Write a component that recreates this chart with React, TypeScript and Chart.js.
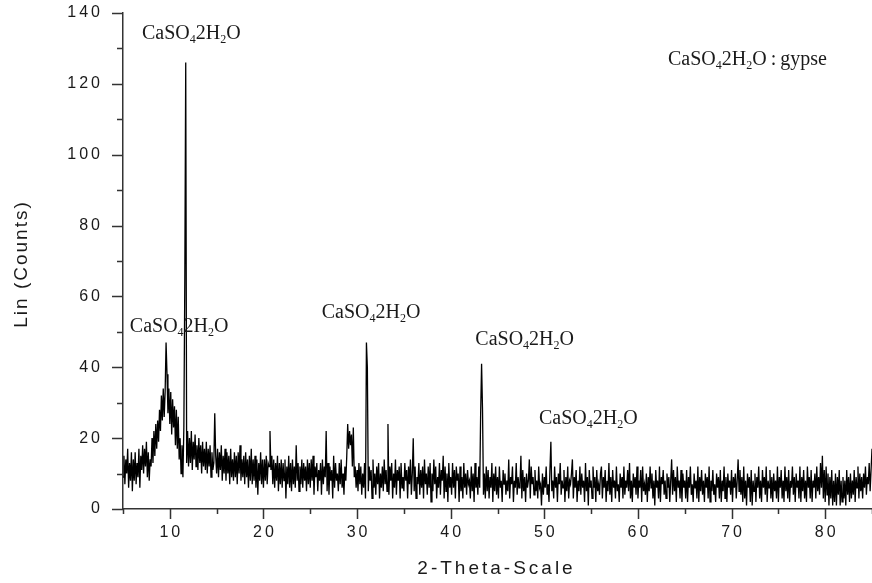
import { useEffect, useRef } from "react";
import { Chart, registerables } from "chart.js";

Chart.register(...registerables);

// XRD scan grid (2-theta, degrees)
const scanStart = 5;
const scanStep = 0.1;

// Intensity readings (Lin counts), one array per 10-degree window
const counts05to15 = [
  9, 15, 7, 14, 10, 17, 6, 13, 8, 16,
  5, 14, 8, 16, 7, 13, 9, 17, 6, 15,
  11, 18, 10, 17, 12, 19, 9, 16, 8, 14,
  12, 20, 13, 22, 15, 24, 17, 25, 19, 28,
  22, 32, 25, 34, 26, 33, 47, 38, 27, 34,
  24, 33, 21, 31, 23, 29, 18, 28, 17, 26,
  14, 20, 10, 18, 9, 23, 64, 126, 13, 22,
  12, 20, 13, 22, 11, 19, 14, 21, 12, 18,
  11, 20, 13, 18, 10, 19, 12, 17, 11, 19,
  10, 17, 12, 18, 9, 16, 11, 13, 27, 15,
];
const counts15to25 = [
  10, 17, 9, 16, 11, 18, 8, 15, 10, 17,
  8, 16, 10, 15, 7, 17, 9, 14, 8, 16,
  9, 15, 7, 16, 10, 18, 8, 14, 9, 15,
  7, 16, 9, 14, 6, 15, 8, 17, 7, 14,
  8, 15, 6, 14, 4, 13, 8, 16, 7, 14,
  6, 14, 8, 15, 7, 13, 12, 22, 11, 15,
  7, 14, 6, 13, 8, 15, 5, 13, 7, 14,
  6, 13, 8, 14, 3, 12, 7, 15, 6, 13,
  5, 14, 7, 12, 6, 18, 8, 13, 5, 12,
  7, 14, 6, 13, 8, 12, 5, 14, 7, 13,
];
const counts25to35 = [
  6, 14, 8, 15, 4, 12, 9, 13, 5, 11,
  8, 13, 4, 14, 7, 12, 9, 22, 5, 13,
  4, 12, 8, 11, 3, 15, 6, 13, 8, 10,
  5, 13, 7, 14, 6, 10, 4, 12, 8, 15,
  24, 17, 22, 18, 21, 12, 23, 9, 12, 6,
  11, 5, 13, 7, 12, 4, 10, 6, 13, 3,
  47, 40, 5, 12, 8, 11, 3, 14, 6, 10,
  4, 12, 7, 13, 3, 10, 6, 12, 5, 14,
  7, 11, 5, 24, 4, 12, 8, 13, 3, 10,
  6, 14, 4, 11, 8, 12, 3, 13, 6, 9,
];
const counts35to45 = [
  5, 13, 8, 11, 3, 12, 7, 14, 4, 10,
  20, 5, 12, 3, 9, 7, 13, 4, 11, 6,
  12, 3, 14, 7, 10, 4, 12, 6, 13, 2,
  10, 5, 14, 7, 12, 3, 9, 6, 13, 4,
  11, 8, 15, 3, 12, 5, 10, 2, 13, 6,
  9, 4, 13, 6, 11, 3, 12, 8, 10, 2,
  12, 5, 9, 3, 13, 6, 10, 4, 11, 7,
  8, 3, 12, 5, 10, 2, 13, 6, 9, 4,
  12, 6, 27, 41, 28, 4, 10, 3, 12, 5,
  11, 3, 9, 6, 13, 2, 10, 5, 12, 4,
];
const counts45to55 = [
  9, 3, 12, 6, 8, 2, 11, 7, 10, 4,
  8, 5, 14, 3, 9, 7, 12, 2, 8, 6,
  13, 4, 9, 6, 7, 15, 3, 11, 5, 9,
  2, 10, 6, 8, 14, 3, 12, 7, 9, 4,
  11, 5, 8, 3, 12, 6, 7, 1, 10, 4,
  9, 6, 12, 4, 7, 2, 11, 19, 5, 8,
  3, 12, 6, 9, 2, 10, 7, 13, 4, 8,
  6, 11, 2, 9, 5, 12, 3, 8, 7, 10,
  14, 3, 9, 6, 11, 2, 8, 5, 12, 4,
  10, 6, 8, 2, 13, 5, 9, 1, 11, 6,
];
const counts55to65 = [
  8, 3, 12, 6, 9, 2, 11, 5, 7, 4,
  10, 12, 3, 9, 6, 11, 2, 8, 5, 13,
  4, 9, 2, 11, 6, 8, 3, 12, 5, 7,
  2, 10, 6, 9, 3, 12, 4, 8, 6, 11,
  5, 13, 3, 8, 2, 10, 6, 9, 4, 12,
  3, 8, 6, 11, 2, 12, 5, 7, 4, 10,
  2, 9, 5, 12, 6, 10, 3, 8, 1, 11,
  6, 8, 3, 12, 2, 9, 7, 11, 4, 8,
  3, 10, 6, 9, 2, 8, 14, 4, 11, 5,
  9, 2, 12, 6, 8, 3, 11, 2, 10, 6,
];
const counts65to75 = [
  8, 3, 11, 2, 9, 6, 12, 4, 7, 2,
  10, 6, 8, 3, 12, 2, 9, 5, 11, 4,
  8, 2, 10, 6, 9, 3, 12, 2, 8, 5,
  11, 4, 7, 2, 10, 6, 9, 3, 11, 2,
  8, 5, 12, 3, 9, 2, 10, 6, 8, 4,
  11, 2, 9, 6, 10, 3, 8, 14, 5, 11,
  4, 9, 2, 12, 3, 8, 1, 10, 6, 9,
  2, 11, 1, 8, 5, 10, 2, 9, 6, 12,
  3, 8, 2, 11, 6, 9, 4, 12, 2, 8,
  6, 11, 3, 9, 2, 10, 5, 8, 3, 12,
];
const counts75to85 = [
  2, 9, 6, 11, 3, 8, 2, 12, 5, 9,
  3, 11, 2, 8, 6, 12, 4, 9, 2, 10,
  6, 8, 3, 12, 2, 9, 5, 11, 3, 8,
  2, 12, 6, 9, 3, 11, 2, 8, 6, 10,
  3, 12, 5, 9, 4, 13, 6, 15, 3, 11,
  2, 12, 4, 10, 1, 9, 3, 11, 1, 8,
  2, 10, 1, 9, 4, 11, 1, 8, 2, 9,
  3, 8, 1, 11, 4, 9, 2, 10, 3, 8,
  4, 11, 2, 9, 6, 12, 3, 10, 5, 9,
  3, 10, 6, 12, 4, 9, 7, 13, 5, 11,
  17,
];

const xMin = 5;
const xMax = 85;
const yMin = 0;
const yMax = 140;
const xTickLabels = [10, 20, 30, 40, 50, 60, 70, 80];
const yTickLabels = [0, 20, 40, 60, 80, 100, 120, 140];
const xTitle = "2-Theta-Scale";
const yTitle = "Lin (Counts)";

// Peak annotations (data coordinates of label centre)
const peakLabelX = [12.3, 11.0, 31.5, 47.9, 54.7];
const peakLabelY = [134.6, 51.9, 56.0, 48.3, 26.0];
const noteX = 71.7;
const noteY = 127.3;

type Part = [string, boolean];
const formulaParts: Part[] = [
  ["CaSO", false],
  ["4", true],
  ["2H", false],
  ["2", true],
  ["O", false],
];
const noteParts: Part[] = [...formulaParts, ["\u2009:\u2009gypse", false]];

const allCounts = [
  ...counts05to15,
  ...counts15to25,
  ...counts25to35,
  ...counts35to45,
  ...counts45to55,
  ...counts55to65,
  ...counts65to75,
  ...counts75to85,
];

const MAIN_FONT = "20px 'Liberation Serif', 'Times New Roman', serif";
const SUB_FONT = "12px 'Liberation Serif', 'Times New Roman', serif";

function drawFormula(ctx: CanvasRenderingContext2D, parts: Part[], cx: number, cy: number) {
  ctx.letterSpacing = "0px";
  let total = 0;
  const widths = parts.map(([t, sub]) => {
    ctx.font = sub ? SUB_FONT : MAIN_FONT;
    const w = ctx.measureText(t).width;
    total += w;
    return w;
  });
  let x = cx - total / 2;
  const baseline = cy + 7;
  ctx.textAlign = "left";
  ctx.textBaseline = "alphabetic";
  parts.forEach(([t, sub], i) => {
    ctx.font = sub ? SUB_FONT : MAIN_FONT;
    ctx.fillText(t, x, sub ? baseline + 4 : baseline);
    x += widths[i];
  });
}

const decorPlugin = {
  id: "decor",
  afterDraw(chart: any) {
    const ctx: CanvasRenderingContext2D = chart.ctx;
    const xs = chart.scales.x;
    const ys = chart.scales.y;
    const area = chart.chartArea;
    ctx.save();
    ctx.strokeStyle = "#333";
    ctx.lineWidth = 1.5;
    ctx.beginPath();
    for (let v = yMin; v <= yMax; v += 10) {
      const py = Math.round(ys.getPixelForValue(v)) + 0.5;
      const len = v % 20 === 0 ? 11 : 6;
      ctx.moveTo(area.left - len, py);
      ctx.lineTo(area.left, py);
    }
    for (let v = xMin; v <= xMax; v += 5) {
      const px = Math.round(xs.getPixelForValue(v)) + 0.5;
      const len = v % 10 === 0 ? 10 : 5;
      ctx.moveTo(px, area.bottom);
      ctx.lineTo(px, area.bottom + len);
    }
    ctx.stroke();

    // tick labels
    const sp = 3;
    ctx.fillStyle = "#1a1a1a";
    ctx.font = "16px 'Liberation Sans', Arial, sans-serif";
    ctx.letterSpacing = sp + "px";
    ctx.textBaseline = "middle";
    ctx.textAlign = "right";
    yTickLabels.forEach((v) => {
      ctx.fillText(String(v), area.left - 23 + sp, ys.getPixelForValue(v));
    });
    ctx.textAlign = "center";
    xTickLabels.forEach((v) => {
      ctx.fillText(String(v), xs.getPixelForValue(v) + sp / 2, area.bottom + 24);
    });

    // axis titles
    ctx.font = "19px 'Liberation Sans', Arial, sans-serif";
    ctx.letterSpacing = "3px";
    ctx.fillText(xTitle, (xs.getPixelForValue(xMin) + xs.getPixelForValue(xMax)) / 2 - 1, area.bottom + 60);
    ctx.save();
    ctx.translate(22, (area.top + area.bottom) / 2 + 4);
    ctx.rotate(-Math.PI / 2);
    ctx.letterSpacing = "2px";
    ctx.fillText(yTitle, 1, 0);
    ctx.restore();

    // annotations
    ctx.fillStyle = "#1a1a1a";
    peakLabelX.forEach((lx, i) => {
      drawFormula(ctx, formulaParts, xs.getPixelForValue(lx), ys.getPixelForValue(peakLabelY[i]));
    });
    drawFormula(ctx, noteParts, xs.getPixelForValue(noteX), ys.getPixelForValue(noteY));
    ctx.restore();
  },
};

export default function App() {
  const canvasRef = useRef<HTMLCanvasElement | null>(null);

  useEffect(() => {
    document.body.style.margin = "0";
    const canvas = canvasRef.current;
    if (!canvas) return;
    const points = allCounts.map((c, i) => ({
      x: Math.round((scanStart + i * scanStep) * 10) / 10,
      y: c,
    }));
    const chart = new Chart(canvas, {
      type: "line",
      data: {
        datasets: [
          {
            data: points,
            borderColor: "#000",
            borderWidth: 1.3,
            pointRadius: 0,
            fill: false,
            tension: 0,
          },
        ],
      },
      options: {
        responsive: false,
        animation: false,
        devicePixelRatio: 1,
        layout: { padding: { top: 13, right: 0, bottom: 0, left: 0 } },
        plugins: {
          legend: { display: false },
          tooltip: { enabled: false },
          title: { display: false },
        },
        scales: {
          x: {
            type: "linear",
            min: xMin,
            max: xMax,
            grid: { display: false },
            ticks: { display: false },
            border: { display: true, color: "#333", width: 1.5 },
            afterFit: (s: any) => {
              s.height = 74;
            },
          },
          y: {
            type: "linear",
            min: yMin,
            max: yMax,
            grid: { display: false },
            ticks: { display: false },
            border: { display: true, color: "#333", width: 1.5 },
            afterFit: (s: any) => {
              s.width = 123;
            },
          },
        },
      },
      plugins: [decorPlugin],
    } as any);
    return () => chart.destroy();
  }, []);

  return (
    <div style={{ width: 872, height: 583 }}>
      <canvas ref={canvasRef} width={872} height={583} />
    </div>
  );
}
